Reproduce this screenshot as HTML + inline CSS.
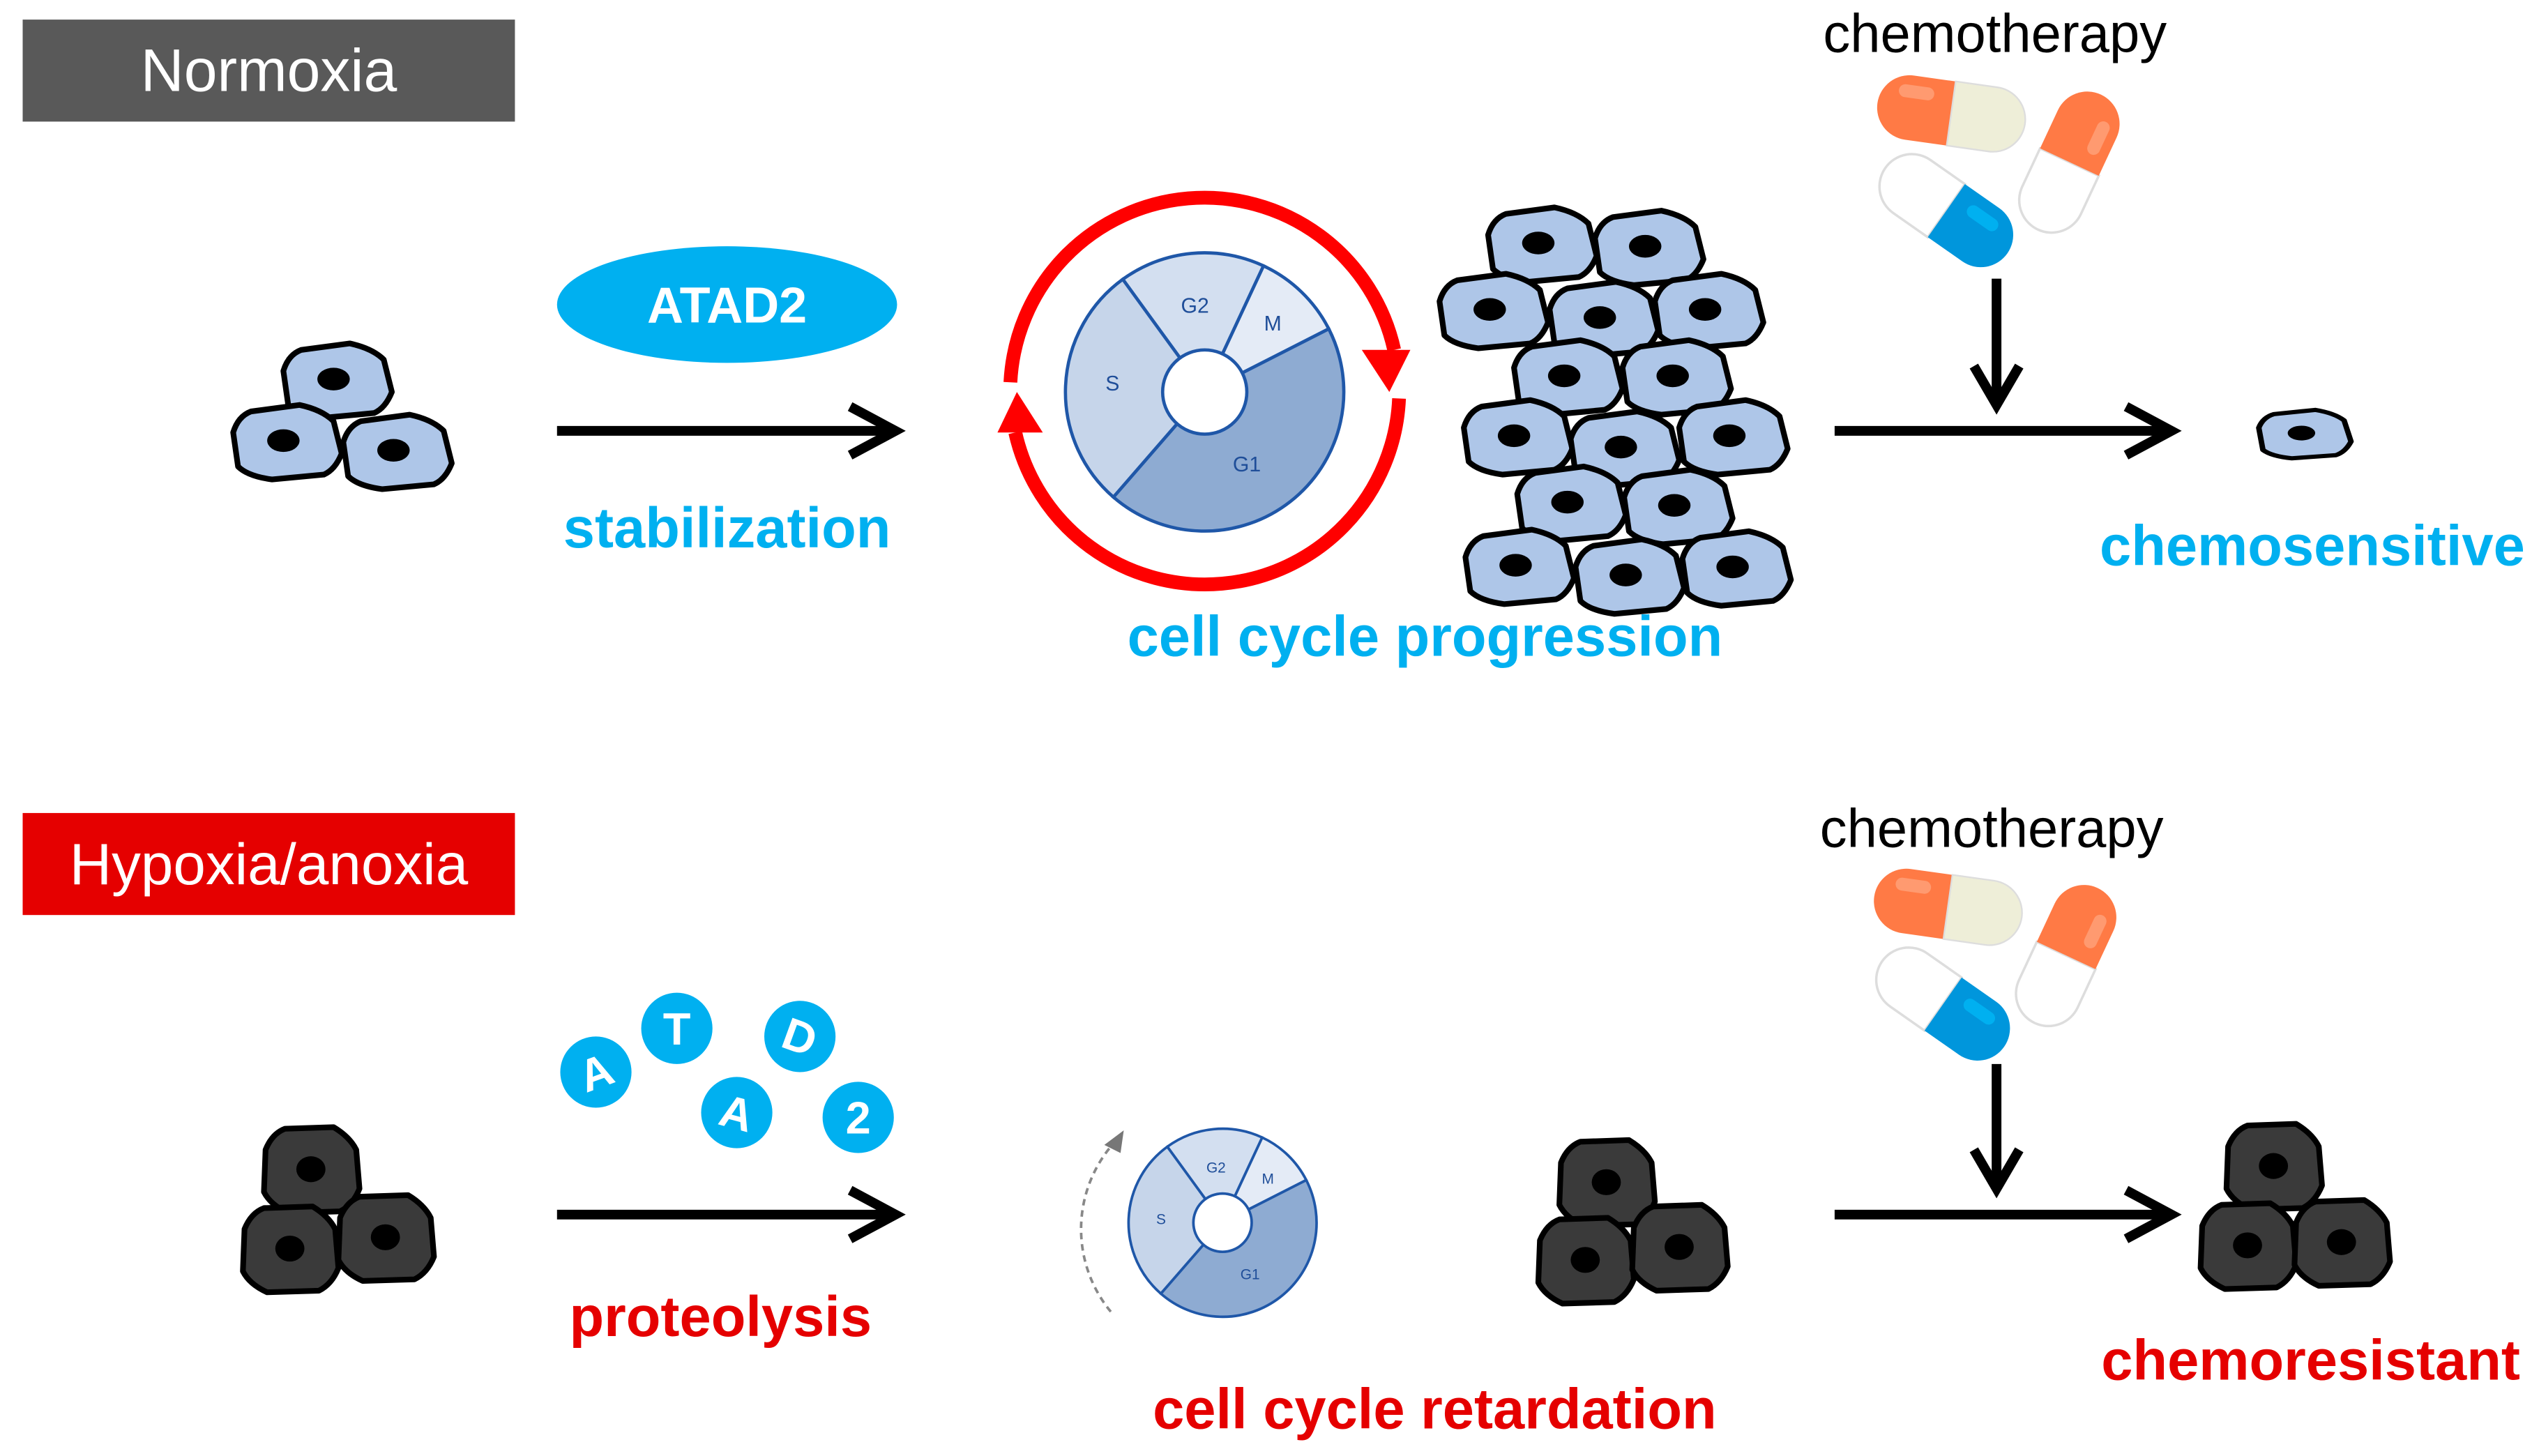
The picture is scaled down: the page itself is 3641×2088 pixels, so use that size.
<!DOCTYPE html>
<html><head><meta charset="utf-8"><style>
html,body{margin:0;padding:0;background:#fff;}
svg{display:block;}
text{font-family:"Liberation Sans",sans-serif;}
</style></head><body>
<svg width="3641" height="2088" viewBox="0 0 1568 899" xmlns="http://www.w3.org/2000/svg">
<defs>
<g id="lc">
<path d="M-33,-6 Q-30,-16 -22,-19 L8,-23 Q22,-20 29,-13 L34,7 Q30,17 23,20 L-9,23 Q-24,21 -30,15 Z" fill="#aec6e8" stroke="#000" stroke-width="3.5" stroke-linejoin="round"/>
<ellipse cx="-2" cy="-1" rx="10" ry="7" fill="#000"/>
</g>
<g id="dc">
<path d="M-28,-12 Q-24,-22 -16,-25 L14,-26 Q24,-20 28,-12 L30,12 Q26,22 18,26 L-14,27 Q-25,22 -29,14 Z" fill="#3a3a3a" stroke="#000" stroke-width="3.5" stroke-linejoin="round"/>
<ellipse cx="0" cy="0" rx="9" ry="8" fill="#000"/>
</g>
<g id="pills">
<g transform="translate(1205,70) rotate(8)">
<path d="M0,-20 H-26 A20,20 0 0 0 -26,20 H0 Z" fill="#ff7a45"/>
<path d="M0,-20 H26 A20,20 0 0 1 26,20 H0 Z" fill="#eeeed8" stroke="#ddd" stroke-width="1"/>
<rect x="-34" y="-14" width="22" height="8" rx="4" fill="#ff9a70"/>
</g>
<g transform="translate(1202,130) rotate(35)">
<path d="M0,-20 H-26 A20,20 0 0 0 -26,20 H0 Z" fill="#fff" stroke="#ddd" stroke-width="1.5"/>
<path d="M0,-20 H26 A20,20 0 0 1 26,20 H0 Z" fill="#0096dc"/>
<rect x="10" y="-13" width="22" height="8" rx="4" fill="#00b0f0"/>
</g>
<g transform="translate(1278,100) rotate(-65)">
<path d="M0,-20 H-26 A20,20 0 0 0 -26,20 H0 Z" fill="#fff" stroke="#ddd" stroke-width="1.5"/>
<path d="M0,-20 H26 A20,20 0 0 1 26,20 H0 Z" fill="#ff7a45"/>
<rect x="10" y="6" width="22" height="8" rx="4" fill="#ff9a70"/>
</g>
</g>
</defs>

<rect x="14" y="12" width="304" height="63" fill="#595959"/>
<text x="166" y="56" font-size="37" fill="#fff" text-anchor="middle">Normoxia</text>
<rect x="14" y="502" width="304" height="63" fill="#e50000"/>
<text x="166" y="546" font-size="36" fill="#fff" text-anchor="middle">Hypoxia/anoxia</text>

<use href="#lc" x="208" y="235"/>
<use href="#lc" x="177" y="273"/>
<use href="#lc" x="245" y="279"/>

<ellipse cx="449" cy="188" rx="105" ry="36" fill="#00b0f0"/>
<text x="449" y="199" font-size="31" font-weight="bold" fill="#fff" text-anchor="middle">ATAD2</text>
<g stroke="#000" stroke-width="6" fill="none">
<line x1="344" y1="266" x2="553" y2="266"/>
<polyline points="525,251 553,266 525,281"/>
</g>
<text x="449" y="338" font-size="35" font-weight="bold" fill="#00b0f0" text-anchor="middle">stabilization</text>

<g stroke="#1f57a8" stroke-width="2">
<path d="M744,242 L693.4,172.4 A86,86 0 0 1 780.3,164.1 Z" fill="#d3dff0"/>
<path d="M744,242 L780.3,164.1 A86,86 0 0 1 820.6,203 Z" fill="#e4ebf6"/>
<path d="M744,242 L820.6,203 A86,86 0 0 1 687.6,306.9 Z" fill="#8eabd2"/>
<path d="M744,242 L687.6,306.9 A86,86 0 0 1 693.4,172.4 Z" fill="#c6d5ea"/>
<circle cx="744" cy="242" r="26" fill="#fff"/>
</g>
<g font-size="13" fill="#1f4e99" text-anchor="middle">
<text x="738" y="193">G2</text><text x="786" y="204">M</text>
<text x="687" y="241">S</text><text x="770" y="291">G1</text>
</g>
<g fill="none" stroke="#f00" stroke-width="8.5">
<path d="M624,236 A120,120 0 0 1 861,216"/>
<path d="M864,246 A120,120 0 0 1 627,267"/>
</g>
<polygon points="841,216 871,216 858,242" fill="#f00"/>
<polygon points="616,267 644,267 628,242" fill="#f00"/>

<use href="#lc" x="952" y="151"/><use href="#lc" x="1018" y="153"/>
<use href="#lc" x="922" y="192"/><use href="#lc" x="990" y="197"/><use href="#lc" x="1055" y="192"/>
<use href="#lc" x="968" y="233"/><use href="#lc" x="1035" y="233"/>
<use href="#lc" x="937" y="270"/><use href="#lc" x="1003" y="277"/><use href="#lc" x="1070" y="270"/>
<use href="#lc" x="970" y="311"/><use href="#lc" x="1036" y="313"/>
<use href="#lc" x="938" y="350"/><use href="#lc" x="1006" y="356"/><use href="#lc" x="1072" y="351"/>
<text x="880" y="405" font-size="35" font-weight="bold" fill="#00b0f0" text-anchor="middle">cell cycle progression</text>

<text x="1232" y="32" font-size="33.5" fill="#000" text-anchor="middle">chemotherapy</text>
<use href="#pills"/>
<g stroke="#000" stroke-width="6" fill="none">
<line x1="1233" y1="172" x2="1233" y2="250"/>
<polyline points="1219,226 1233,250 1247,226"/>
<line x1="1133" y1="266" x2="1341" y2="266"/>
<polyline points="1313,251 1341,266 1313,281"/>
</g>
<g transform="translate(1423,268) scale(0.85,0.65)">
<path d="M-33,-6 Q-30,-16 -22,-19 L8,-23 Q22,-20 29,-13 L34,7 Q30,17 23,20 L-9,23 Q-24,21 -30,15 Z" fill="#aec6e8" stroke="#000" stroke-width="4" stroke-linejoin="round"/>
<ellipse cx="-2" cy="-1" rx="10" ry="7" fill="#000"/>
</g>
<text x="1428" y="349" font-size="35" font-weight="bold" fill="#00b0f0" text-anchor="middle">chemosensitive</text>

<use href="#dc" x="192" y="722"/><use href="#dc" x="179" y="771"/><use href="#dc" x="238" y="764"/>

<g font-weight="bold" font-size="28" fill="#fff" text-anchor="middle">
<circle cx="368" cy="662" r="22" fill="#00b0f0"/><text x="368" y="672" transform="rotate(-20 368 662)">A</text>
<circle cx="418" cy="635" r="22" fill="#00b0f0"/><text x="418" y="645">T</text>
<circle cx="494" cy="640" r="22" fill="#00b0f0"/><text x="494" y="650" transform="rotate(20 494 640)">D</text>
<circle cx="455" cy="687" r="22" fill="#00b0f0"/><text x="455" y="697" transform="rotate(15 455 687)">A</text>
<circle cx="530" cy="690" r="22" fill="#00b0f0"/><text x="530" y="700">2</text>
</g>
<g stroke="#000" stroke-width="6" fill="none">
<line x1="344" y1="750" x2="553" y2="750"/>
<polyline points="525,735 553,750 525,765"/>
</g>
<text x="445" y="825" font-size="35" font-weight="bold" fill="#e50000" text-anchor="middle">proteolysis</text>

<g stroke="#1f57a8" stroke-width="1.6">
<path d="M755,755 L720.9,708.1 A58,58 0 0 1 779.5,702.4 Z" fill="#d3dff0"/>
<path d="M755,755 L779.5,702.4 A58,58 0 0 1 806.7,728.7 Z" fill="#e4ebf6"/>
<path d="M755,755 L806.7,728.7 A58,58 0 0 1 716.9,798.8 Z" fill="#8eabd2"/>
<path d="M755,755 L716.9,798.8 A58,58 0 0 1 720.9,708.1 Z" fill="#c6d5ea"/>
<circle cx="755" cy="755" r="18" fill="#fff"/>
</g>
<g font-size="9" fill="#1f4e99" text-anchor="middle">
<text x="751" y="724">G2</text><text x="783" y="731">M</text>
<text x="717" y="756">S</text><text x="772" y="790">G1</text>
</g>
<path d="M686,810 A80,80 0 0 1 686,708" fill="none" stroke="#888" stroke-width="1.6" stroke-dasharray="4,3"/>
<polygon points="682,707 694,698 692,712" fill="#777"/>
<text x="886" y="882" font-size="35" font-weight="bold" fill="#e50000" text-anchor="middle">cell cycle retardation</text>

<use href="#dc" x="992" y="730"/><use href="#dc" x="979" y="778"/><use href="#dc" x="1037" y="770"/>

<text x="1230" y="523" font-size="33.5" fill="#000" text-anchor="middle">chemotherapy</text>
<use href="#pills" transform="translate(-2,490)"/>
<g stroke="#000" stroke-width="6" fill="none">
<line x1="1233" y1="657" x2="1233" y2="734"/>
<polyline points="1219,710 1233,734 1247,710"/>
<line x1="1133" y1="750" x2="1341" y2="750"/>
<polyline points="1313,735 1341,750 1313,765"/>
</g>
<use href="#dc" x="1404" y="720"/><use href="#dc" x="1388" y="769"/><use href="#dc" x="1446" y="767"/>
<text x="1427" y="852" font-size="35" font-weight="bold" fill="#e50000" text-anchor="middle">chemoresistant</text>
</svg>
</body></html>
